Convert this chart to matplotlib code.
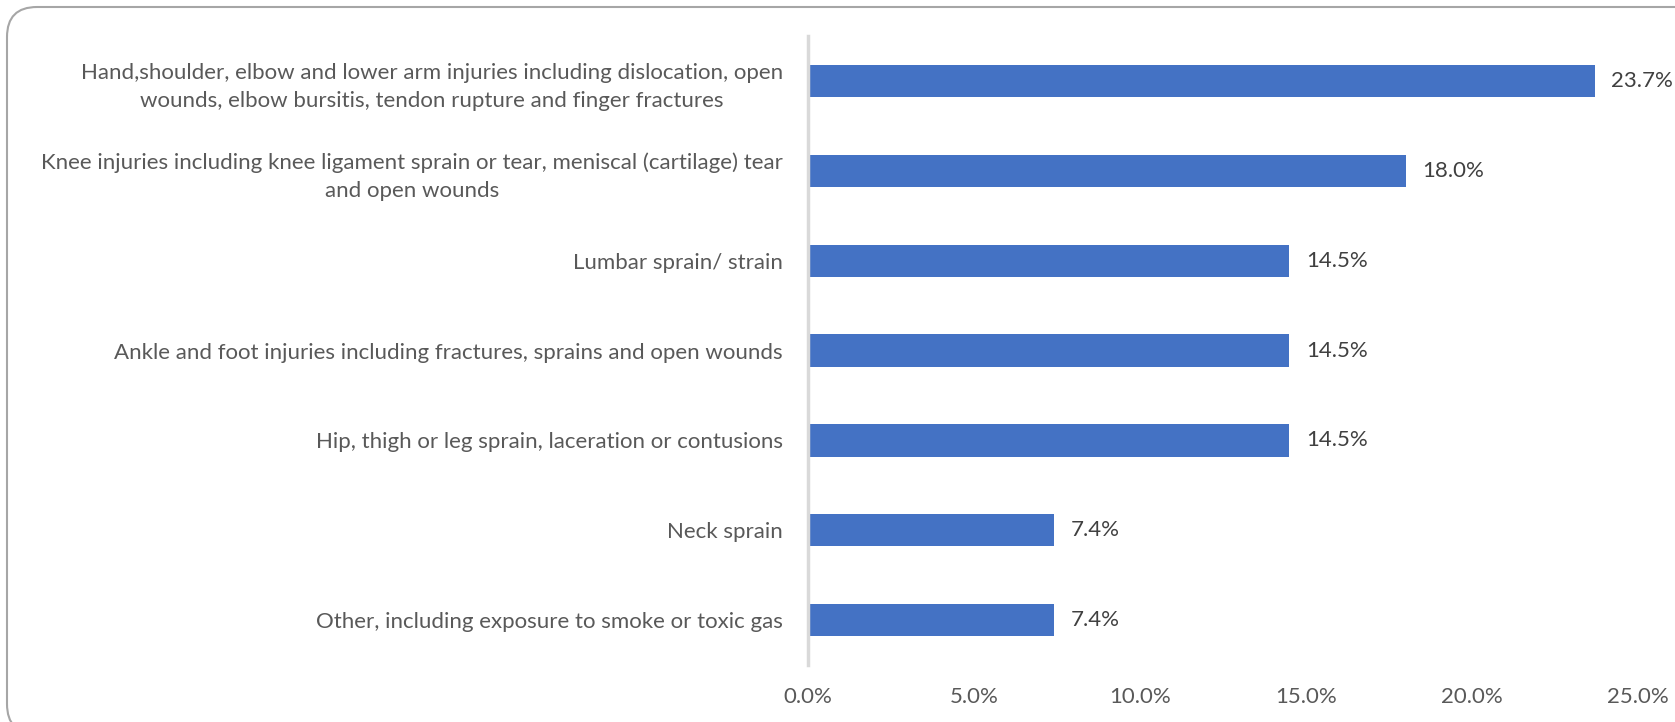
import matplotlib.pyplot as plt
from matplotlib.patches import FancyBboxPatch
from matplotlib.ticker import FuncFormatter

categories = [
    "Hand,shoulder, elbow and lower arm injuries including dislocation, open\nwounds, elbow bursitis, tendon rupture and finger fractures",
    "Knee injuries including knee ligament sprain or tear, meniscal (cartilage) tear\nand open wounds",
    "Lumbar sprain/ strain",
    "Ankle and foot injuries including fractures, sprains and open wounds",
    "Hip, thigh or leg sprain, laceration or contusions",
    "Neck sprain",
    "Other, including exposure to smoke or toxic gas",
]
values = [23.7, 18.0, 14.5, 14.5, 14.5, 7.4, 7.4]
x_ticks = [0, 5, 10, 15, 20, 25]

plt.rcParams['font.family'] = ['Lato', 'DejaVu Sans']

fig = plt.figure(figsize=(16.75, 7.22), dpi=100)
ax = fig.add_axes([0.4824, 0.0789, 0.4955, 0.8711])

# rounded chart frame (in inches), partly cut off at right and bottom
frame = FancyBboxPatch((0.07, -0.12), 17.2, 7.27,
                       boxstyle="round,pad=0,rounding_size=0.3",
                       transform=fig.dpi_scale_trans, facecolor='none',
                       edgecolor='#a6a6a6', linewidth=1.5, clip_on=False)
fig.patches.append(frame)

y = list(range(len(categories)))
ax.barh(y, values, height=0.36, color='#4472c4', zorder=2)
ax.set_ylim(len(categories) - 0.5, -0.5)
ax.set_xlim(0, 25)
ax.set_yticks(y)
ax.set_yticklabels(categories, fontsize=16, color='#595959',
                   multialignment='center', linespacing=1.5)
ax.set_xticks(x_ticks)
ax.xaxis.set_major_formatter(FuncFormatter(lambda v, p: f"{v:.1f}%"))
ax.tick_params(axis='x', labelsize=16, labelcolor='#595959', length=0, pad=15.5)
ax.tick_params(axis='y', length=0, pad=18)

for s in ['top', 'right', 'bottom']:
    ax.spines[s].set_visible(False)
ax.spines['left'].set_color('#d9d9d9')
ax.spines['left'].set_linewidth(2.5)

for yi, v in zip(y, values):
    ax.text(v + 0.5, yi, f"{v:.1f}%", va='center', ha='left',
            fontsize=16, color='#404040')

fig.savefig('out.png', dpi=100, facecolor='white')
